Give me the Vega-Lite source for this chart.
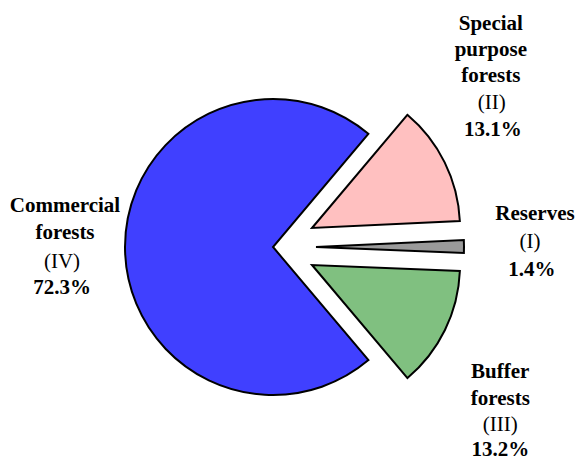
{
  "$schema": "https://vega.github.io/schema/vega-lite/v6.json",
  "width": 546,
  "height": 426,
  "autosize": {"type": "none"},
  "padding": {"left": 0, "top": 34, "right": 30, "bottom": 0},
  "background": "white",
  "view": {"stroke": null},
  "config": {"text": {"font": "Liberation Serif"}},
  "data": {
    "values": [
      {"k": "II", "name": "Special\npurpose\nforests", "num": "(II)", "pct": "13.1%", "value": 13.1, "ord": 1},
      {"k": "I", "name": "Reserves", "num": "(I)", "pct": "1.4%", "value": 1.4, "ord": 2},
      {"k": "III", "name": "Buffer\nforests", "num": "(III)", "pct": "13.2%", "value": 13.2, "ord": 3},
      {"k": "IV", "name": "Commercial\nforests", "num": "(IV)", "pct": "72.3%", "value": 72.3, "ord": 4}
    ]
  },
  "encoding": {
    "theta": {"field": "value", "type": "quantitative", "stack": true, "scale": {"domain": [0, 100], "range": [0.70, 6.9832]}},
    "order": {"field": "ord", "type": "quantitative"}
  },
  "layer": [
    {"mark": {"type": "arc", "outerRadius": 148, "fill": "#4040ff", "stroke": "black", "strokeWidth": 2},
     "encoding": {"opacity": {"condition": {"test": "datum.k === 'IV'", "value": 1}, "value": 0}}},
    {"mark": {"type": "arc", "outerRadius": 148, "fill": "#ffc0c0", "stroke": "black", "strokeWidth": 2, "xOffset": 39, "yOffset": -19},
     "encoding": {"opacity": {"condition": {"test": "datum.k === 'II'", "value": 1}, "value": 0}}},
    {"mark": {"type": "arc", "outerRadius": 148, "fill": "#9a9a9a", "stroke": "black", "strokeWidth": 2, "xOffset": 43, "yOffset": 0},
     "encoding": {"opacity": {"condition": {"test": "datum.k === 'I'", "value": 1}, "value": 0}}},
    {"mark": {"type": "arc", "outerRadius": 148, "fill": "#80c080", "stroke": "black", "strokeWidth": 2, "xOffset": 39, "yOffset": 18},
     "encoding": {"opacity": {"condition": {"test": "datum.k === 'III'", "value": 1}, "value": 0}}},

    {"mark": {"type": "text", "radius": 243, "dx": 0, "dy": -115, "fontWeight": "bold", "fontSize": 21, "lineBreak": "\n", "lineHeight": 26, "align": "center", "baseline": "middle", "color": "black"},
     "encoding": {"text": {"condition": {"test": "datum.k === 'II'", "field": "name"}, "value": ""}}},
    {"mark": {"type": "text", "radius": 243, "dx": 1, "dy": -36, "fontSize": 21, "align": "center", "baseline": "middle", "color": "black"},
     "encoding": {"text": {"condition": {"test": "datum.k === 'II'", "field": "num"}, "value": ""}}},
    {"mark": {"type": "text", "radius": 243, "dx": 2, "dy": -9, "fontWeight": "bold", "fontSize": 21, "align": "center", "baseline": "middle", "color": "black"},
     "encoding": {"text": {"condition": {"test": "datum.k === 'II'", "field": "pct"}, "value": ""}}},

    {"mark": {"type": "text", "radius": 262, "dx": 0, "dy": -32, "fontWeight": "bold", "fontSize": 21, "align": "center", "baseline": "middle", "color": "black"},
     "encoding": {"text": {"condition": {"test": "datum.k === 'I'", "field": "name"}, "value": ""}}},
    {"mark": {"type": "text", "radius": 262, "dx": -5, "dy": -4, "fontSize": 21, "align": "center", "baseline": "middle", "color": "black"},
     "encoding": {"text": {"condition": {"test": "datum.k === 'I'", "field": "num"}, "value": ""}}},
    {"mark": {"type": "text", "radius": 262, "dx": -3, "dy": 24, "fontWeight": "bold", "fontSize": 21, "align": "center", "baseline": "middle", "color": "black"},
     "encoding": {"text": {"condition": {"test": "datum.k === 'I'", "field": "pct"}, "value": ""}}},

    {"mark": {"type": "text", "radius": 253, "dx": 0, "dy": 14, "fontWeight": "bold", "fontSize": 21, "lineBreak": "\n", "lineHeight": 27, "align": "center", "baseline": "middle", "color": "black"},
     "encoding": {"text": {"condition": {"test": "datum.k === 'III'", "field": "name"}, "value": ""}}},
    {"mark": {"type": "text", "radius": 253, "dx": 0, "dy": 67, "fontSize": 21, "align": "center", "baseline": "middle", "color": "black"},
     "encoding": {"text": {"condition": {"test": "datum.k === 'III'", "field": "num"}, "value": ""}}},
    {"mark": {"type": "text", "radius": 253, "dx": 0, "dy": 92, "fontWeight": "bold", "fontSize": 21, "align": "center", "baseline": "middle", "color": "black"},
     "encoding": {"text": {"condition": {"test": "datum.k === 'III'", "field": "pct"}, "value": ""}}},

    {"mark": {"type": "text", "radius": 209, "dx": 1, "dy": -41, "fontWeight": "bold", "fontSize": 21, "lineBreak": "\n", "lineHeight": 27, "align": "center", "baseline": "middle", "color": "black"},
     "encoding": {"text": {"condition": {"test": "datum.k === 'IV'", "field": "name"}, "value": ""}}},
    {"mark": {"type": "text", "radius": 209, "dx": -2, "dy": 15, "fontSize": 21, "align": "center", "baseline": "middle", "color": "black"},
     "encoding": {"text": {"condition": {"test": "datum.k === 'IV'", "field": "num"}, "value": ""}}},
    {"mark": {"type": "text", "radius": 209, "dx": -2, "dy": 41, "fontWeight": "bold", "fontSize": 21, "align": "center", "baseline": "middle", "color": "black"},
     "encoding": {"text": {"condition": {"test": "datum.k === 'IV'", "field": "pct"}, "value": ""}}}
  ]
}
